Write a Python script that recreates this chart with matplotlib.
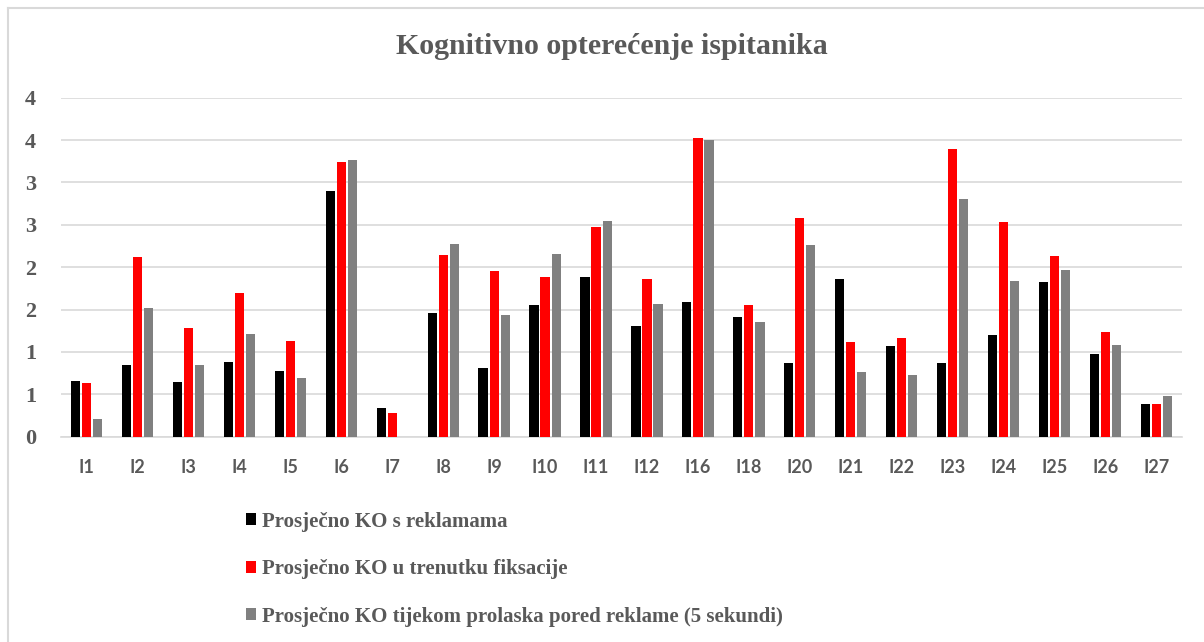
import numpy as np
import matplotlib
matplotlib.use("Agg")
import matplotlib.pyplot as plt
from matplotlib.ticker import FuncFormatter
from matplotlib.lines import Line2D

# data
categories = ['I1', 'I2', 'I3', 'I4', 'I5', 'I6', 'I7', 'I8', 'I9', 'I10', 'I11',
              'I12', 'I16', 'I18', 'I20', 'I21', 'I22', 'I23', 'I24', 'I25', 'I26', 'I27']
ko_reklame = [0.66, 0.85, 0.64, 0.88, 0.78, 2.90, 0.34, 1.46, 0.81, 1.55, 1.88,
              1.31, 1.59, 1.41, 0.87, 1.86, 1.07, 0.87, 1.20, 1.83, 0.97, 0.39]
ko_fiksacija = [0.63, 2.12, 1.28, 1.69, 1.13, 3.24, 0.28, 2.14, 1.96, 1.88, 2.47,
                1.86, 3.52, 1.55, 2.58, 1.12, 1.16, 3.40, 2.53, 2.13, 1.23, 0.39]
ko_prolazak = [0.21, 1.52, 0.85, 1.21, 0.69, 3.27, 0.0, 2.27, 1.44, 2.16, 2.54,
               1.56, 3.50, 1.35, 2.26, 0.76, 0.73, 2.81, 1.84, 1.97, 1.08, 0.48]
series_names = ['Prosječno KO s reklamama',
                'Prosječno KO u trenutku fiksacije',
                'Prosječno KO tijekom prolaska pored reklame (5 sekundi)']
colors = ['#000000', '#ff0000', '#808080']

txt = '#595959'
grid_c = '#d9d9d9'

fig = plt.figure(figsize=(12.04, 6.42), dpi=100)
ax = fig.add_axes([0.0507, 0.3198, 0.9310, 0.5280])

x = np.arange(len(categories))
w = 0.18
step = 0.217
for i, (vals, c, name) in enumerate(zip([ko_reklame, ko_fiksacija, ko_prolazak], colors, series_names)):
    ax.bar(x + (i - 1) * step, vals, width=w, color=c, label=name, zorder=3)

ax.set_xlim(-0.5, len(categories) - 0.5)
ax.set_ylim(0, 4)
ax.set_yticks(np.arange(0, 4.01, 0.5))
# Excel-style rounding of the 0.5 steps to whole numbers
ax.yaxis.set_major_formatter(FuncFormatter(lambda v, p: f"{int(np.floor(v + 0.5))}"))
ax.grid(axis='y', color=grid_c, linewidth=1.2, zorder=0)
for s in ['top', 'right', 'left']:
    ax.spines[s].set_visible(False)
ax.spines['bottom'].set_color(grid_c)
ax.spines['bottom'].set_linewidth(1.2)

ax.set_xticks(x)
ax.set_xticklabels(categories)
ax.tick_params(axis='both', length=0)
ax.tick_params(axis='y', pad=18)
ax.tick_params(axis='x', pad=16)
for lab in ax.get_yticklabels():
    lab.set_fontfamily('Liberation Serif')
    lab.set_fontweight('bold')
    lab.set_fontsize(16)
    lab.set_color(txt)
for lab in ax.get_xticklabels():
    lab.set_fontfamily('Lato')
    lab.set_fontweight('bold')
    lab.set_fontsize(13)
    lab.set_color(txt)

fig.text(0.508, 0.927, 'Kognitivno opterećenje ispitanika', ha='center', va='center',
         fontfamily='Liberation Serif', fontweight='bold', fontsize=21.5, color=txt)

leg = fig.legend(loc='upper left', bbox_to_anchor=(0.197, 0.216), frameon=False,
                 prop={'family': 'Liberation Serif', 'weight': 'bold', 'size': 15},
                 handlelength=0.5, handleheight=0.5, handletextpad=0.3,
                 labelspacing=1.32, borderaxespad=0)
for t in leg.get_texts():
    t.set_color(txt)

# chart area border (only top and left edges visible in the reference)
fig.add_artist(Line2D([8 / 1204, 8 / 1204], [0, 1 - 8 / 642], transform=fig.transFigure,
                      color=grid_c, linewidth=1.5))
fig.add_artist(Line2D([8 / 1204, 1], [1 - 8 / 642, 1 - 8 / 642], transform=fig.transFigure,
                      color=grid_c, linewidth=1.5))

fig.savefig('out.png', dpi=100)
